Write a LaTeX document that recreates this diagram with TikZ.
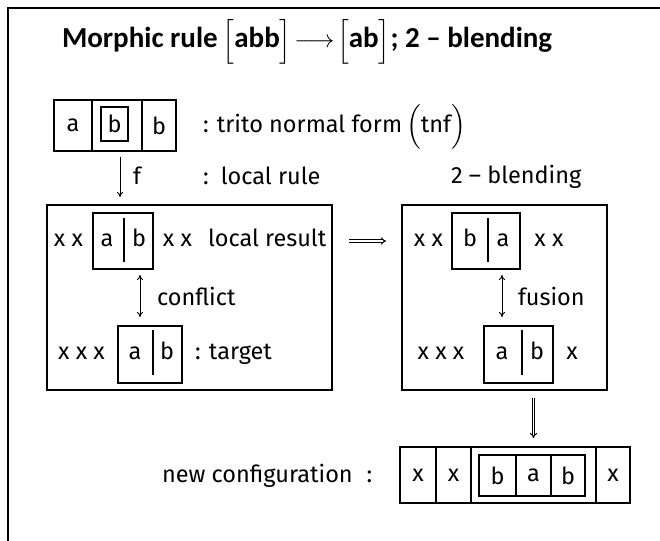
\documentclass[tikz,border=0pt]{standalone}
\usepackage{amsmath}
\usepackage{fontspec}
\setmainfont{Fira Sans}
\newfontfamily\titlefont{Carlito}
\usetikzlibrary{arrows.meta}
\begin{document}
\begin{tikzpicture}[x=1pt,y=-1pt,
  every node/.style={inner sep=0pt, outer sep=0pt},
  body/.style={font=\fontsize{23.5}{26}\selectfont},
  ttl/.style={font=\titlefont\bfseries\fontsize{29}{32}\selectfont},
  frame/.style={line width=1.4pt},
  box/.style={draw, line width=1.2pt, rectangle},
  sep/.style={line width=1.2pt},
  arr/.style={line width=1pt, -{To[length=5pt,width=6pt]}},
  darr/.style={line width=1pt, {To[length=5pt,width=6pt]}-{To[length=5pt,width=6pt]}},
  impl/.style={double equal sign distance, line width=1pt, -{Implies}},
]
\useasboundingbox (0,0) rectangle (660,540);
\clip (0,0) rectangle (660,540);
\draw[frame] (8,548) -- (8,8) -- (668,8);

% title
\node[ttl, anchor=base west] (title) at (62,48)
  {Morphic rule\,$\Big[$abb$\Big]\!\longrightarrow\!\Big[$ab$\Big]$; 2 – blending};

% trito normal form
\node[box, minimum width=38pt, minimum height=51pt, body] (c1) at (73,125.5) {a};
\node[box, minimum width=50pt, minimum height=51pt] (c2) at (117,125.5) {};
\node[box, minimum width=34pt, minimum height=51pt, body] (c3) at (159,125.5) {b};
\node[box, minimum width=27pt, minimum height=34pt, body] (c2i) at (114.5,124) {b};
\node[body, anchor=base west] (tnf) at (203,133) {: trito normal form\,$\Big($tnf$\Big)$};

\node[body, anchor=base west] (flab) at (133,184) {f};
\node[body, anchor=base west] (lrule) at (203,184) {:\, local rule};
\node[body, anchor=base west] (blend) at (451,183) {2 – blending};

% left big box
\node[box, minimum width=285pt, minimum height=185pt] (L) at (189.5,297.5) {};
\node[box, minimum width=60pt, minimum height=56pt] (Lt) at (123,241) {};
\node[box, minimum width=64pt, minimum height=57pt] (Lb) at (150,354.5) {};
\draw[sep] (124,218) -- (124,262);
\draw[sep] (153,330) -- (153,375);
\node[body, anchor=base] (lxx) at (68.5,246) {x x};
\node[body, anchor=base] (la1) at (107,246) {a};
\node[body, anchor=base] (lb1) at (139,246) {b};
\node[body, anchor=base] (lxx2) at (177.5,246) {x x};
\node[body, anchor=base west] (lres) at (208,246) {local result};
\node[body, anchor=base west] (confl) at (157,305) {conflict};
\node[body, anchor=base] (lxxx) at (81.5,359) {x x x};
\node[body, anchor=base] (la2) at (135,359) {a};
\node[body, anchor=base] (lb2) at (167,359) {b};
\node[body, anchor=base west] (targ) at (195,359) {: target};

% right big box
\node[box, minimum width=205pt, minimum height=185pt] (R) at (504.5,297.5) {};
\node[box, minimum width=68pt, minimum height=56pt] (Rt) at (486,241) {};
\node[box, minimum width=69pt, minimum height=57pt] (Rb) at (518.5,354.5) {};
\draw[sep] (488,218) -- (488,262);
\draw[sep] (522,330) -- (522,375);
\node[body, anchor=base] (rxx) at (428.5,246) {x x};
\node[body, anchor=base] (rb1) at (470,246) {b};
\node[body, anchor=base] (ra1) at (503,246) {a};
\node[body, anchor=base] (rxx2) at (549,246) {x x};
\node[body, anchor=base west] (fus) at (518,305) {fusion};
\node[body, anchor=base] (rxxx) at (441,359) {x x x};
\node[body, anchor=base] (ra2) at (502,359) {a};
\node[body, anchor=base] (rb2) at (537,359) {b};
\node[body, anchor=base] (rx) at (572,359) {x};

% new configuration
\node[box, minimum width=36pt, minimum height=56pt, body] (n1) at (418,475) {x};
\node[box, minimum width=35pt, minimum height=56pt, body] (n2) at (453.5,475) {x};
\node[box, minimum width=125pt, minimum height=56pt] (n3) at (533.5,475) {};
\node[box, minimum width=34pt, minimum height=56pt, body] (n4) at (613,475) {x};
\node[box, minimum width=37pt, minimum height=41pt, body] (m1) at (497.5,475.5) {b};
\node[box, minimum width=35pt, minimum height=41pt, body] (m2) at (533.5,475.5) {a};
\node[box, minimum width=34pt, minimum height=41pt, body] (m3) at (568,475.5) {b};
\node[body, anchor=base west] (newc) at (162,482) {new configuration\hspace{14pt}:};

% connectors
\draw[arr, shorten <=6pt, shorten >=8pt] ([xshift=3pt]c2.south) -- ([xshift=3pt]c2.south |- L.north);
\draw[darr, shorten <=6pt, shorten >=9pt] ([xshift=17pt]Lt.south) -- ([xshift=17pt]Lt.south |- Lb.north);
\draw[darr, shorten <=6pt, shorten >=9pt] ([xshift=16pt]Rt.south) -- ([xshift=16pt]Rt.south |- Rb.north);
\draw[impl, shorten <=17pt, shorten >=16pt] (L.east |- Lt.center) -- (R.west |- Lt.center);
\draw[impl, shorten <=8pt, shorten >=9pt] (m2.north |- R.south) -- (m2.north |- n3.north);
\end{tikzpicture}
\end{document}
